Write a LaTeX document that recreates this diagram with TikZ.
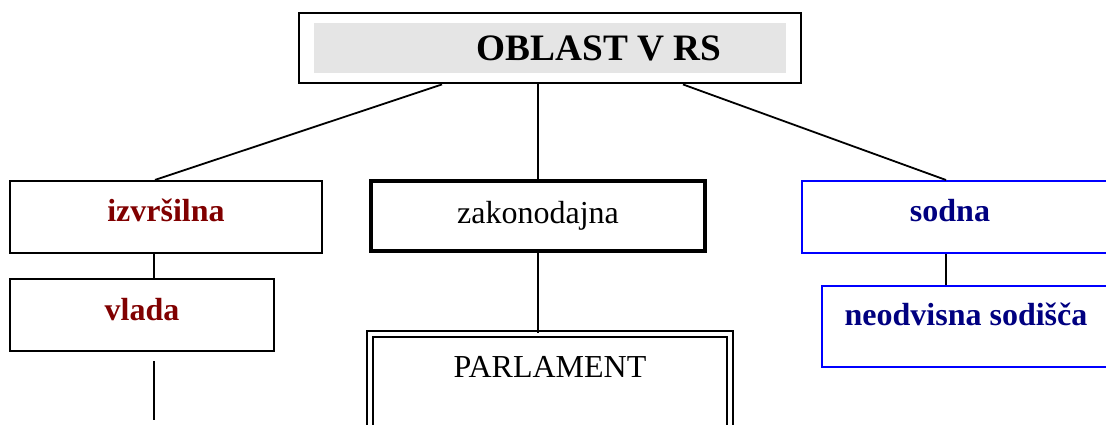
\documentclass[tikz,border=0pt]{standalone}
\usepackage{fontspec}
\setmainfont{Liberation Serif}
\usetikzlibrary{positioning, calc, fit}
\definecolor{exec}{HTML}{800000}
\definecolor{court}{HTML}{000080}
\definecolor{courtline}{HTML}{0000FF}

\begin{document}
\begin{tikzpicture}[
    x=1pt, y=-1pt,
    box/.style={draw, line width=2.2pt, minimum height=72pt, inner sep=0pt,
                text height=22pt, text depth=12pt, font=\fontsize{32}{38}\selectfont},
    band/.style={fill=gray!20, minimum width=472pt, minimum height=50pt,
                 font=\fontsize{37.3}{44}\selectfont\bfseries},
    link/.style={line width=1.8pt},
]
    \useasboundingbox (0,0) rectangle (1106,425);

    % Title
    \node[band] (band) at (550,48) {\hspace*{98pt}OBLAST V RS};
    \node[draw, line width=2.5pt, fit=(band), inner xsep=15pt, inner ysep=10pt] (top) {};

    % Row 1: branches
    \node[box, minimum width=312pt, text=exec] (izv) at (166,217) {\textbf{izvršilna}};
    \node[box, minimum width=334pt, minimum height=70pt, line width=4pt,
          text depth=8pt] (zak) at (538,216) {zakonodajna};
    \node[box, minimum width=328pt, line width=2pt, draw=courtline, text=court]
          (sodna) at (966,217) {\textbf{sodna}\hspace*{32pt}};

    % Row 2: bodies
    \node[box, minimum width=264pt, text=exec, below=24pt of izv.south west,
          anchor=north west] (vlada) {\textbf{vlada}};
    \node[box, minimum width=360pt, minimum height=110pt, line width=1.5pt,
          double, double distance=4.5pt, text depth=46pt] (parl) at (550,389) {PARLAMENT};
    \node[box, minimum width=288pt, minimum height=81pt, line width=2pt,
          draw=courtline, text=court, text depth=25pt]
          (sodisca) at (966,326.5) {\textbf{neodvisna sodišča}};

    % Links
    \draw[link] ([xshift=-108pt]top.south) -- ([xshift=-11pt]izv.north);
    \draw[link] (zak.north |- top.south) -- (zak.north);
    \draw[link] ([xshift=133pt]top.south) -- ([xshift=-20pt]sodna.north);
    \draw[link] ([xshift=-12pt]izv.south) -- ([xshift=12pt]vlada.north);
    \draw[link] (zak.south) -- (zak.south |- parl.north);
    \draw[link] ([xshift=-20pt]sodna.south) -- ([xshift=-20pt]sodna.south |- sodisca.north);

    % Open line below vlada
    \coordinate (vladaend) at ([xshift=12pt,yshift=-68pt]vlada.south);
    \draw[link] ([xshift=12pt,yshift=-9pt]vlada.south) -- (vladaend);
\end{tikzpicture}
\end{document}
